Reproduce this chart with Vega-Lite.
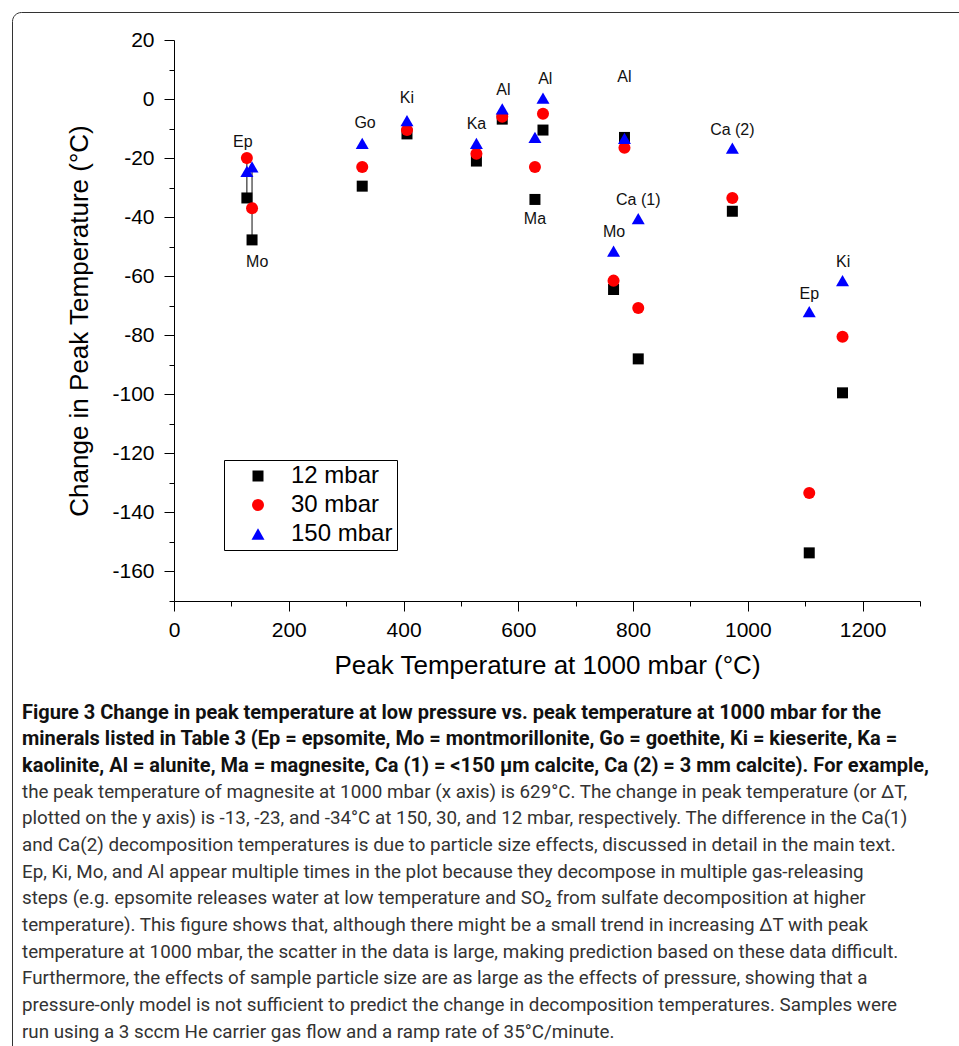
{
  "$schema": "https://vega.github.io/schema/vega-lite/v6.json",
  "width": 746,
  "height": 561,
  "autosize": {"type": "none"},
  "padding": {"left": 174, "top": 40, "right": 39, "bottom": 445},
  "background": "white",
  "config": {
    "view": {"stroke": null},
    "font": "Liberation Sans",
    "axis": {
      "domainColor": "#000",
      "tickColor": "#000",
      "labelColor": "#000",
      "titleColor": "#000",
      "labelFont": "Liberation Sans",
      "titleFont": "Liberation Sans",
      "labelFontSize": 21,
      "titleFontSize": 26,
      "titleFontWeight": "normal",
      "grid": false
    }
  },
  "datasets": {
    "points": [
      {"m": "Ep", "T1000": 127, "p": "12 mbar", "dT": -33.5},
      {"m": "Mo", "T1000": 136, "p": "12 mbar", "dT": -47.7},
      {"m": "Go", "T1000": 328, "p": "12 mbar", "dT": -29.5},
      {"m": "Ki", "T1000": 406, "p": "12 mbar", "dT": -11.8},
      {"m": "Ka", "T1000": 527, "p": "12 mbar", "dT": -21},
      {"m": "Al", "T1000": 572, "p": "12 mbar", "dT": -6.8},
      {"m": "Ma", "T1000": 629, "p": "12 mbar", "dT": -34},
      {"m": "Al", "T1000": 643, "p": "12 mbar", "dT": -10.5},
      {"m": "Mo", "T1000": 766, "p": "12 mbar", "dT": -64.5},
      {"m": "Al", "T1000": 785, "p": "12 mbar", "dT": -13},
      {"m": "Ca (1)", "T1000": 809, "p": "12 mbar", "dT": -88},
      {"m": "Ca (2)", "T1000": 973, "p": "12 mbar", "dT": -38},
      {"m": "Ep", "T1000": 1107, "p": "12 mbar", "dT": -153.7},
      {"m": "Ki", "T1000": 1165, "p": "12 mbar", "dT": -99.5},
      {"m": "Ep", "T1000": 127, "p": "30 mbar", "dT": -20},
      {"m": "Mo", "T1000": 136, "p": "30 mbar", "dT": -37},
      {"m": "Go", "T1000": 328, "p": "30 mbar", "dT": -23},
      {"m": "Ki", "T1000": 406, "p": "30 mbar", "dT": -10.5},
      {"m": "Ka", "T1000": 527, "p": "30 mbar", "dT": -18.5},
      {"m": "Al", "T1000": 572, "p": "30 mbar", "dT": -6},
      {"m": "Ma", "T1000": 629, "p": "30 mbar", "dT": -23},
      {"m": "Al", "T1000": 643, "p": "30 mbar", "dT": -5},
      {"m": "Mo", "T1000": 766, "p": "30 mbar", "dT": -61.5},
      {"m": "Al", "T1000": 785, "p": "30 mbar", "dT": -16.5},
      {"m": "Ca (1)", "T1000": 809, "p": "30 mbar", "dT": -70.8},
      {"m": "Ca (2)", "T1000": 973, "p": "30 mbar", "dT": -33.5},
      {"m": "Ep", "T1000": 1107, "p": "30 mbar", "dT": -133.4},
      {"m": "Ki", "T1000": 1165, "p": "30 mbar", "dT": -80.5},
      {"m": "Ep", "T1000": 127, "p": "150 mbar", "dT": -24.5},
      {"m": "Mo", "T1000": 136, "p": "150 mbar", "dT": -23},
      {"m": "Go", "T1000": 328, "p": "150 mbar", "dT": -15},
      {"m": "Ki", "T1000": 406, "p": "150 mbar", "dT": -7.3},
      {"m": "Ka", "T1000": 527, "p": "150 mbar", "dT": -15},
      {"m": "Al", "T1000": 572, "p": "150 mbar", "dT": -3.3},
      {"m": "Ma", "T1000": 629, "p": "150 mbar", "dT": -13},
      {"m": "Al", "T1000": 643, "p": "150 mbar", "dT": 0.3},
      {"m": "Mo", "T1000": 766, "p": "150 mbar", "dT": -51.5},
      {"m": "Al", "T1000": 785, "p": "150 mbar", "dT": -13.3},
      {"m": "Ca (1)", "T1000": 809, "p": "150 mbar", "dT": -40.5},
      {"m": "Ca (2)", "T1000": 973, "p": "150 mbar", "dT": -16.6},
      {"m": "Ep", "T1000": 1107, "p": "150 mbar", "dT": -72},
      {"m": "Ki", "T1000": 1165, "p": "150 mbar", "dT": -61.5}
    ],
    "labels": [
      {"label": "Ep", "T1000": 120, "dT": -14.5},
      {"label": "Mo", "T1000": 145, "dT": -55.2},
      {"label": "Go", "T1000": 333, "dT": -8.1},
      {"label": "Ki", "T1000": 406, "dT": 0.4},
      {"label": "Ka", "T1000": 527, "dT": -8.4},
      {"label": "Al", "T1000": 574, "dT": 3.1},
      {"label": "Al", "T1000": 647, "dT": 6.8},
      {"label": "Ma", "T1000": 629, "dT": -40.6},
      {"label": "Al", "T1000": 785, "dT": 7.5},
      {"label": "Ca (2)", "T1000": 973, "dT": -10.5},
      {"label": "Ca (1)", "T1000": 809, "dT": -34.2},
      {"label": "Mo", "T1000": 767, "dT": -45},
      {"label": "Ep", "T1000": 1107, "dT": -66},
      {"label": "Ki", "T1000": 1166, "dT": -55.2}
    ],
    "drops": [
      {"T1000": 127, "lo": -33.5, "hi": -20},
      {"T1000": 136, "lo": -47.7, "hi": -23}
    ]
  },
  "title": {
    "text": [
      "Figure 3 Change in peak temperature at low pressure vs. peak temperature at 1000 mbar for the",
      "minerals listed in Table 3 (Ep = epsomite, Mo = montmorillonite, Go = goethite, Ki = kieserite, Ka =",
      "kaolinite, Al = alunite, Ma = magnesite, Ca (1) = <150 µm calcite, Ca (2) = 3 mm calcite). For example,"
    ],
    "subtitle": [
      "the peak temperature of magnesite at 1000 mbar (x axis) is 629°C. The change in peak temperature (or ΔT,",
      "plotted on the y axis) is -13, -23, and -34°C at 150, 30, and 12 mbar, respectively. The difference in the Ca(1)",
      "and Ca(2) decomposition temperatures is due to particle size effects, discussed in detail in the main text.",
      "Ep, Ki, Mo, and Al appear multiple times in the plot because they decompose in multiple gas-releasing",
      "steps (e.g. epsomite releases water at low temperature and SO₂ from sulfate decomposition at higher",
      "temperature). This figure shows that, although there might be a small trend in increasing ΔT with peak",
      "temperature at 1000 mbar, the scatter in the data is large, making prediction based on these data difficult.",
      "Furthermore, the effects of sample particle size are as large as the effects of pressure, showing that a",
      "pressure-only model is not sufficient to predict the change in decomposition temperatures. Samples were",
      "run using a 3 sccm He carrier gas flow and a ramp rate of 35°C/minute."
    ],
    "orient": "bottom",
    "anchor": "start",
    "frame": "group",
    "dx": -152,
    "offset": -401,
    "font": "Roboto",
    "fontSize": 20,
    "fontWeight": "bold",
    "color": "#111",
    "lineHeight": 26.7,
    "subtitleFont": "Roboto",
    "subtitleFontSize": 18.8,
    "subtitleFontWeight": "normal",
    "subtitleColor": "#333",
    "subtitleLineHeight": 26.7,
    "subtitlePadding": 6.6
  },
  "resolve": {"axis": {"x": "independent", "y": "independent"}},
  "layer": [
    {
      "data": {"name": "drops"},
      "mark": {"type": "rule", "color": "#000", "strokeWidth": 1},
      "encoding": {
        "x": {"field": "T1000", "type": "quantitative", "scale": {"domain": [0, 1300], "nice": false, "zero": false}, "axis": null},
        "y": {"field": "lo", "type": "quantitative", "scale": {"domain": [-170, 20], "nice": false, "zero": false}, "axis": null},
        "y2": {"field": "hi"},
        "strokeDash": {
          "datum": " ",
          "scale": {"range": [[1, 0]]},
          "legend": {
            "title": null,
            "orient": "none",
            "legendX": -162,
            "legendY": -28,
            "padding": 540,
            "cornerRadius": 9,
            "strokeColor": "#333",
            "labelOpacity": 0,
            "labelFontSize": 10,
            "symbolOpacity": 0,
            "symbolSize": 100
          }
        }
      }
    },
    {
      "data": {"name": "points"},
      "mark": {"type": "point", "filled": true, "opacity": 1, "strokeWidth": 0},
      "encoding": {
        "x": {
          "field": "T1000", "type": "quantitative",
          "scale": {"domain": [0, 1300], "nice": false, "zero": false},
          "axis": {
            "orient": "bottom",
            "title": "Peak Temperature at 1000 mbar (°C)",
            "values": [0, 200, 400, 600, 800, 1000, 1200],
            "labelExpr": "'' + datum.value",
            "tickSize": 10,
            "labelPadding": 8,
            "titlePadding": 12,
            "labelFlush": false,
            "labelOverlap": false
          }
        },
        "y": {
          "field": "dT", "type": "quantitative",
          "scale": {"domain": [-170, 20], "nice": false, "zero": false},
          "axis": {
            "orient": "left",
            "title": "Change in Peak Temperature (°C)",
            "values": [-160, -140, -120, -100, -80, -60, -40, -20, 0, 20],
            "labelExpr": "'' + datum.value",
            "tickSize": 10,
            "labelPadding": 10,
            "titlePadding": 19,
            "labelFlush": false,
            "labelOverlap": false
          }
        },
        "color": {
          "field": "p", "type": "ordinal",
          "scale": {"domain": ["12 mbar", "30 mbar", "150 mbar"], "range": ["#000000", "#ff0000", "#0000ff"]},
          "legend": {
            "title": null,
            "orient": "none",
            "legendX": 50,
            "legendY": 420,
            "direction": "vertical",
            "strokeColor": "#000",
            "fillColor": "#fff",
            "padding": 4,
            "rowPadding": 5,
            "symbolOffset": 18,
            "labelOffset": 21,
            "labelFont": "Liberation Sans",
            "labelFontSize": 24,
            "labelColor": "#000",
            "symbolStrokeWidth": 0
          }
        },
        "shape": {
          "field": "p", "type": "ordinal",
          "scale": {"domain": ["12 mbar", "30 mbar", "150 mbar"], "range": ["square", "circle", "triangle-up"]}
        },
        "size": {
          "field": "p", "type": "ordinal",
          "scale": {"domain": ["12 mbar", "30 mbar", "150 mbar"], "range": [121, 169, 225]}
        }
      }
    },
    {
      "data": {"name": "labels"},
      "mark": {"type": "text", "font": "Liberation Sans", "fontSize": 16, "color": "#111", "align": "center", "baseline": "middle"},
      "encoding": {
        "x": {
          "field": "T1000", "type": "quantitative",
          "scale": {"domain": [0, 1300], "nice": false, "zero": false},
          "axis": {
            "orient": "bottom",
            "title": null,
            "values": [100, 300, 500, 700, 900, 1100, 1300],
            "labels": false,
            "domain": false,
            "tickSize": 5
          }
        },
        "y": {
          "field": "dT", "type": "quantitative",
          "scale": {"domain": [-170, 20], "nice": false, "zero": false},
          "axis": {
            "orient": "left",
            "title": null,
            "values": [-170, -150, -130, -110, -90, -70, -50, -30, -10, 10],
            "labels": false,
            "domain": false,
            "tickSize": 5
          }
        },
        "text": {"field": "label", "type": "nominal"}
      }
    }
  ]
}
